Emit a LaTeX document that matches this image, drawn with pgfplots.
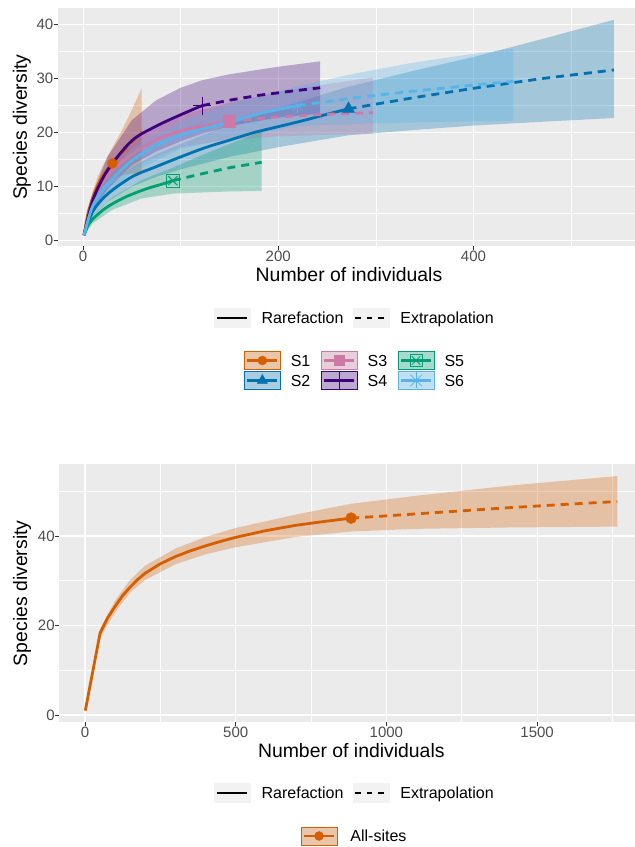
\documentclass[border=0pt]{standalone}
\usepackage{fontspec}
\setmainfont{Liberation Sans}
\usepackage{pgfplots}
\pgfplotsset{compat=1.18}
\definecolor{panelgray}{HTML}{EBEBEB}
\definecolor{keygray}{HTML}{F2F2F2}
\definecolor{tickgray}{HTML}{333333}
\definecolor{labelgray}{HTML}{4D4D4D}
\definecolor{sA}{HTML}{D55E00}
\definecolor{sB}{HTML}{0072B2}
\definecolor{sC}{HTML}{CC79A7}
\definecolor{sD}{HTML}{3F007D}
\definecolor{sE}{HTML}{009E73}
\definecolor{sF}{HTML}{56B4E9}
\newcommand{\titlefont}{\fontsize{19.4}{23}\selectfont}
\pgfplotsset{
  gg/.style={
    scale only axis,
    axis background/.style={fill=panelgray},
    axis line style={draw=none},
    grid=both,
    major grid style={white, line width=1.1pt},
    minor grid style={white, line width=0.55pt},
    tick align=outside, tick pos=left,
    major tick length=4pt, minor tick length=0pt,
    tick style={color=tickgray, line width=1pt},
    tick label style={font=\fontsize{15}{18}\selectfont, text=labelgray, inner sep=0pt},
    xticklabel style={yshift=-1pt},
    /pgf/number format/assume math mode=true,
    /pgf/number format/1000 sep={},
    scaled ticks=false,
    legend cell align=left,
  },
  band/.style={draw=none, fill=#1, fill opacity=0.3, forget plot},
  rare/.style={#1, line width=2.8pt, forget plot},
  extr/.style={#1, line width=2.8pt, dash pattern=on 8pt off 6pt, forget plot},
  legkeys/.style={legend style={draw=none, fill=none, inner sep=0pt, outer sep=0pt,
      font=\fontsize{16}{19}\selectfont, nodes={inner sep=0pt, text depth=0pt},
      /tikz/row sep=1pt}},
}
% legend key: colour, marker code
\newcommand{\skey}[2]{\addlegendimage{legend image code/.code={
  \draw[draw=#1, fill=#1!30!keygray, line width=0.9pt] (0pt,-9pt) rectangle (36pt,9pt);
  \draw[#1, line width=2.8pt] (3pt,0pt) -- (33pt,0pt);
  #2}}}
\begin{document}
\begin{tikzpicture}
\path[use as bounding box] (0pt,0pt) rectangle (635pt,847pt);
% ---------------- top panel ----------------
\begin{axis}[gg, at={(57.5pt,601pt)}, anchor=south west, width=583pt, height=237.6pt,
  xmin=-26.2, xmax=571.2, ymin=-1, ymax=43,
  xtick={0,200,400}, minor xtick={100,300,500},
  ytick={0,10,20,30,40}, minor ytick={5,15,25,35},
  xlabel={Number of individuals}, ylabel={Species diversity},
  every axis x label/.style={at={(axis description cs:0.5,-0.118)}, anchor=center, font=\titlefont, inner sep=0pt, text depth=0pt},
  every axis y label/.style={at={(axis description cs:-0.061,0.5)}, anchor=center, rotate=90, font=\titlefont, inner sep=0pt},
  legkeys, legend columns=3,
  legend style={at={(0.5086,-0.524)}, anchor=center,
    /tikz/every even column/.append style={column sep=10.4pt},
    /tikz/every odd column/.append style={column sep=10pt}},
]
% bands
\addplot[band=sA] coordinates {(1,1)(5,5.8)(10,9.2)(15,11.8)(20,13.8)(25,15.6)(30,17.2)(40,20.5)(50,24.2)(60,28.2)
  (60,12.5)(50,12.4)(40,12.1)(30,11.5)(25,10.9)(20,10.0)(15,8.6)(10,6.8)(5,4.2)(1,1)};
\addplot[band=sB] coordinates {(1,1)(10,6.2)(25,10)(50,13.6)(75,16)(100,17.9)(150,21.5)(200,24.5)(272,28.5)(340,31.5)(400,34)(470,37.3)(544,40.9)
  (544,22.7)(470,22)(400,21.3)(340,20.5)(272,19.5)(200,17.3)(150,15.5)(100,13.2)(75,11.8)(50,10)(25,7.2)(10,4.6)(1,1)};
\addplot[band=sC] coordinates {(1,1)(10,8.3)(25,13.8)(50,18.4)(100,23.3)(150,25.5)(200,27.5)(250,29)(297,30.2)
  (297,19.8)(250,19.6)(200,19.3)(150,18.7)(100,17.3)(50,13.6)(25,10.2)(10,6.1)(1,1)};
\addplot[band=sD] coordinates {(1,1)(10,8.8)(25,15.5)(50,22.3)(75,26)(100,28.3)(122,29.7)(150,30.8)(200,32.2)(243,33.2)
  (243,23.5)(200,22.8)(150,21.2)(122,19.8)(100,18.4)(75,16.5)(50,14)(25,9.5)(10,5.5)(1,1)};
\addplot[band=sE] coordinates {(1,1)(10,4.8)(30,8)(60,11.2)(92,13.5)(120,15.7)(150,17.9)(183,20.2)
  (183,9.2)(150,9.1)(120,8.9)(92,8.7)(60,7.8)(30,5.7)(10,3.2)(1,1)};
\addplot[band=sF] coordinates {(1,1)(10,7.5)(25,12.2)(50,17)(100,22)(150,25.3)(220,28.6)(280,31)(340,33)(400,34.6)(441,35.5)
  (441,22.2)(400,22.1)(340,21.9)(280,21.6)(220,21.2)(150,19)(100,17)(50,12.6)(25,8.8)(10,5.5)(1,1)};
% lines
\addplot[rare=sA, smooth] coordinates {(1,1)(5,5.0)(10,8.0)(15,10.2)(20,11.9)(25,13.2)(30,14.3)};
\addplot[extr=sA] coordinates {(30,14.3)(40,16.3)(50,18.3)(60,20.2)};
\addplot[rare=sB, smooth] coordinates {(1,1)(10,5.4)(25,8.6)(50,11.8)(75,13.7)(100,15.5)(125,17.2)(150,18.6)(175,20.0)(200,21.1)(225,22.2)(250,23.4)(272,24.4)};
\addplot[extr=sB] coordinates {(272,24.4)(340,26.5)(400,28.2)(470,30.0)(544,31.6)};
\addplot[rare=sC, smooth] coordinates {(1,1)(10,7.2)(25,12)(50,16)(75,18.7)(100,20.3)(125,21.3)(150,22.1)};
\addplot[extr=sC] coordinates {(150,22.1)(200,22.9)(250,23.4)(297,23.7)};
\addplot[rare=sD, smooth] coordinates {(1,1)(10,7.5)(25,13)(50,18.5)(75,21.2)(100,23.3)(122,25.0)};
\addplot[extr=sD] coordinates {(122,25.0)(150,26.0)(180,26.9)(210,27.6)(243,28.3)};
\addplot[rare=sE, smooth] coordinates {(1,1)(5,2.8)(10,4.0)(20,5.6)(30,6.8)(45,8.2)(65,9.6)(80,10.4)(92,11.1)};
\addplot[extr=sE] coordinates {(92,11.1)(120,12.3)(150,13.5)(183,14.5)};
\addplot[rare=sF, smooth] coordinates {(1,1)(10,6.5)(25,10.5)(50,14.8)(75,17.6)(100,19.5)(150,22.0)(185,23.7)(220,25.0)};
\addplot[extr=sF] coordinates {(220,25.0)(280,26.5)(340,27.7)(400,28.8)(441,29.5)};
% observed points
\addplot[sA, only marks, mark=*, mark size=5pt, forget plot] coordinates {(30,14.3)};
\addplot[sB, only marks, mark=triangle*, mark size=7pt, forget plot] coordinates {(272,24.4)};
\addplot[sC, only marks, mark=square*, mark size=6pt, forget plot] coordinates {(150,22.1)};
\addplot[sD, only marks, mark=+, mark size=9pt, mark options={line width=1pt}, forget plot] coordinates {(122,25.0)};
\addplot[sE, only marks, mark=square, mark size=6.5pt, mark options={line width=1pt}, forget plot] coordinates {(92,11.1)};
\addplot[sE, only marks, mark=x, mark size=6.5pt, mark options={line width=1pt}, forget plot] coordinates {(92,11.1)};
\addplot[sF, only marks, mark=+, mark size=7.5pt, mark options={line width=0.8pt}, forget plot] coordinates {(220,25.0)};
\addplot[sF, only marks, mark=x, mark size=7.5pt, mark options={line width=0.8pt}, forget plot] coordinates {(220,25.0)};
% legend (S1 S3 S5 / S2 S4 S6)
\skey{sA}{\draw[sA, fill=sA] plot[mark=*, mark size=4.5pt] coordinates {(18pt,0pt)};}
\addlegendentry{S1}
\skey{sC}{\draw[sC, fill=sC] plot[mark=square*, mark size=5pt] coordinates {(18pt,0pt)};}
\addlegendentry{S3}
\skey{sE}{\draw[sE] plot[mark=square, mark size=6pt, mark options={line width=0.8pt}] coordinates {(18pt,0pt)};
  \draw[sE] plot[mark=x, mark size=6pt, mark options={line width=0.8pt}] coordinates {(18pt,0pt)};}
\addlegendentry{S5}
\skey{sB}{\draw[sB, fill=sB] plot[mark=triangle*, mark size=6pt] coordinates {(18pt,0pt)};}
\addlegendentry{S2}
\skey{sD}{\draw[sD] plot[mark=+, mark size=8.5pt, mark options={line width=1pt}] coordinates {(18pt,0pt)};}
\addlegendentry{S4}
\skey{sF}{\draw[sF] plot[mark=+, mark size=8pt, mark options={line width=0.7pt}] coordinates {(18pt,0pt)};
  \draw[sF] plot[mark=x, mark size=8pt, mark options={line width=0.7pt}] coordinates {(18pt,0pt)};}
\addlegendentry{S6}
\end{axis}
% line-type legend, top
\begin{axis}[hide axis, scale only axis, width=10pt, height=10pt, at={(354pt,529pt)}, anchor=center,
  xmin=0, xmax=1, ymin=0, ymax=1, legend cell align=left, legkeys, legend columns=2,
  legend style={at={(0.5,0.5)}, anchor=center,
    /tikz/every even column/.append style={column sep=9.5pt},
    /tikz/every odd column/.append style={column sep=11pt}}]
\addlegendimage{legend image code/.code={\fill[keygray] (0pt,-9.5pt) rectangle (36pt,9.5pt);
  \draw[black, line width=2.8pt] (3pt,0pt) -- (33pt,0pt);}}
\addlegendentry{Rarefaction}
\addlegendimage{legend image code/.code={\fill[keygray] (0pt,-9.5pt) rectangle (36pt,9.5pt);
  \draw[black, line width=2.8pt, dash pattern=on 5.5pt off 6pt] (2pt,0pt) -- (34pt,0pt);}}
\addlegendentry{Extrapolation}
\end{axis}
% ---------------- bottom panel ----------------
\begin{axis}[gg, at={(58.8pt,124.8pt)}, anchor=south west, width=585pt, height=257.8pt,
  xmin=-87, xmax=1854, ymin=-1.6, ymax=56,
  xtick={0,500,1000,1500}, minor xtick={250,750,1250,1750},
  ytick={0,20,40}, minor ytick={10,30,50},
  xlabel={Number of individuals}, ylabel={Species diversity},
  every axis x label/.style={at={(axis description cs:0.5,-0.108)}, anchor=center, font=\titlefont, inner sep=0pt, text depth=0pt},
  every axis y label/.style={at={(axis description cs:-0.0629,0.5)}, anchor=center, rotate=90, font=\titlefont, inner sep=0pt},
  legkeys, legend columns=1,
  legend style={at={(0.5038,-0.4414)}, anchor=center,
    /tikz/every odd column/.append style={column sep=13pt}},
]
\addplot[band=sA] coordinates {(1,1)(50,19.3)(100,25.6)(150,30.2)(200,33.4)(300,37.2)(400,39.8)(500,41.8)(700,44.8)(883,47.2)(1100,49)(1400,51.2)(1766,53.4)
  (1766,42.1)(1400,41.9)(1100,41.6)(883,41.0)(700,39.8)(500,37.5)(400,35.9)(300,33.7)(200,30.2)(150,27.4)(100,23.0)(50,17.3)(1,1)};
\addplot[rare=sA] coordinates {(1,1)(50,18.3)(75,21.7)(100,24.3)(125,26.7)(150,28.6)(175,30.3)(200,31.7)(250,33.8)(300,35.4)(350,36.7)(400,37.8)(450,38.8)(500,39.7)(600,41.2)(700,42.4)(800,43.3)(883,44.0)};
\addplot[extr=sA] coordinates {(883,44.0)(1000,44.5)(1200,45.4)(1400,46.3)(1600,47.1)(1766,47.7)};
\addplot[sA, only marks, mark=*, mark size=5.5pt, forget plot] coordinates {(883,44.0)};
\skey{sA}{\draw[sA, fill=sA] plot[mark=*, mark size=4.5pt] coordinates {(18pt,0pt)};}
\addlegendentry{All-sites}
\end{axis}
% line-type legend, bottom
\begin{axis}[hide axis, scale only axis, width=10pt, height=10pt, at={(354pt,54pt)}, anchor=center,
  xmin=0, xmax=1, ymin=0, ymax=1, legend cell align=left, legkeys, legend columns=2,
  legend style={at={(0.5,0.5)}, anchor=center,
    /tikz/every even column/.append style={column sep=9.5pt},
    /tikz/every odd column/.append style={column sep=11pt}}]
\addlegendimage{legend image code/.code={\fill[keygray] (0pt,-9.5pt) rectangle (36pt,9.5pt);
  \draw[black, line width=2.8pt] (3pt,0pt) -- (33pt,0pt);}}
\addlegendentry{Rarefaction}
\addlegendimage{legend image code/.code={\fill[keygray] (0pt,-9.5pt) rectangle (36pt,9.5pt);
  \draw[black, line width=2.8pt, dash pattern=on 5.5pt off 6pt] (2pt,0pt) -- (34pt,0pt);}}
\addlegendentry{Extrapolation}
\end{axis}
\end{tikzpicture}
\end{document}
